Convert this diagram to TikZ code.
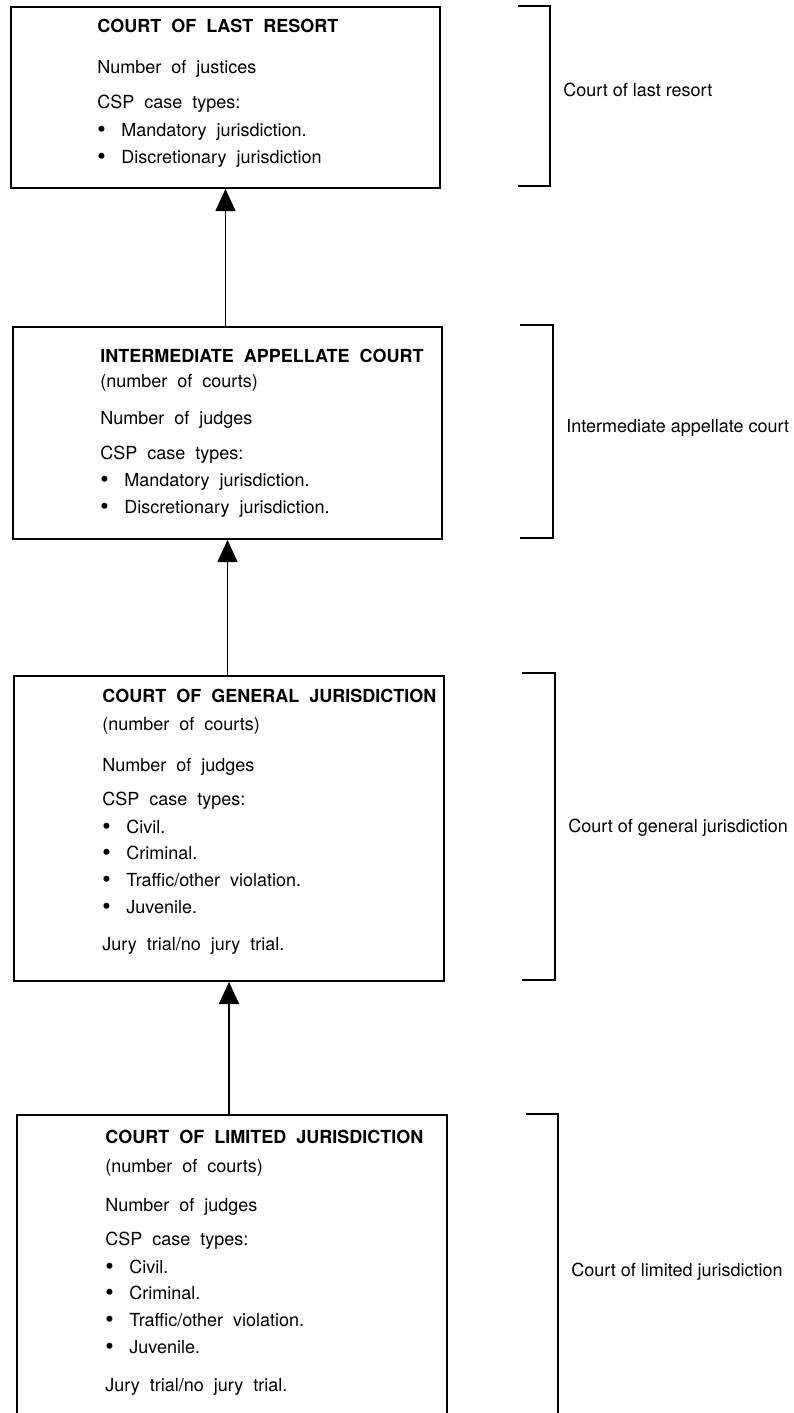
\documentclass[tikz,border=0pt]{standalone}
\usepackage{fontspec}
\setmainfont{TeX Gyre Heros}[WordSpace=2]
\newfontfamily\levelfont{TeX Gyre Heros}
\usepackage{tikz}
\usetikzlibrary{positioning, calc, arrows.meta}

\newcommand{\caseitem}[1]{\makebox[12pt][l]{\raisebox{-0.6pt}{\fontsize{12}{11}\selectfont\textbullet}}#1}

\tikzset{
    court/.style={draw, line width=1pt, anchor=north west, inner sep=0pt},
    entry/.style={anchor=base west, inner sep=0pt, font=\fontsize{9}{11}\selectfont},
    heading/.style={entry, font=\fontsize{9}{11}\selectfont\bfseries},
    level/.style={anchor=west, inner sep=0pt, font=\levelfont\fontsize{9}{11}\selectfont},
    appeal/.style={line width=0.8pt, -{Triangle[width=10pt,length=11pt]}},
    bracket/.style={line width=1pt}
}

\begin{document}
\begin{tikzpicture}[x=0.5pt, y=-0.5pt]
    \useasboundingbox (0,0) rectangle (793,1413);

    % the four courts
    \node[court, minimum width=214.5pt, minimum height=90.5pt] (lastresort) at (10,6) {};
    \node[court, minimum width=214.5pt, minimum height=106pt] (intermediate) at (12,326) {};
    \node[court, minimum width=215pt, minimum height=152.5pt] (general) at (13,675) {};
    \node[court, minimum width=215pt, minimum height=165pt] (limited) at (16,1114) {};

    % court of last resort
    \node[heading] (lastresort-title) at (97,33) {COURT OF LAST RESORT};
    \node[entry] at (97,74) {Number of justices};
    \node[entry] at (97,109) {CSP case types:};
    \node[entry] at (97,136) {\caseitem{Mandatory jurisdiction.}};
    \node[entry] at (97,163) {\caseitem{Discretionary jurisdiction}};

    % intermediate appellate court
    \node[heading] (intermediate-title) at (100,362) {INTERMEDIATE APPELLATE COURT};
    \node[entry] at (100,387) {(number of courts)};
    \node[entry] at (100,424) {Number of judges};
    \node[entry] at (100,459) {CSP case types:};
    \node[entry] at (100,486) {\caseitem{Mandatory jurisdiction.}};
    \node[entry] at (100,513) {\caseitem{Discretionary jurisdiction.}};

    % court of general jurisdiction
    \node[heading] (general-title) at (102,702) {COURT OF GENERAL JURISDICTION};
    \node[entry] at (102,730) {(number of courts)};
    \node[entry] at (102,771) {Number of judges};
    \node[entry] at (102,805) {CSP case types:};
    \node[entry] at (102,833) {\caseitem{Civil.}};
    \node[entry] at (102,859) {\caseitem{Criminal.}};
    \node[entry] at (102,886) {\caseitem{Traffic/other violation.}};
    \node[entry] at (102,913) {\caseitem{Juvenile.}};
    \node[entry] at (102,950) {Jury trial/no jury trial.};

    % court of limited jurisdiction
    \node[heading] (limited-title) at (105,1143) {COURT OF LIMITED JURISDICTION};
    \node[entry] at (105,1172) {(number of courts)};
    \node[entry] at (105,1211) {Number of judges};
    \node[entry] at (105,1245) {CSP case types:};
    \node[entry] at (105,1273) {\caseitem{Civil.}};
    \node[entry] at (105,1299) {\caseitem{Criminal.}};
    \node[entry] at (105,1326) {\caseitem{Traffic/other violation.}};
    \node[entry] at (105,1353) {\caseitem{Juvenile.}};
    \node[entry] at (105,1391) {Jury trial/no jury trial.};

    % appeals
    \draw[appeal] (intermediate.north -| lastresort.south) -- (lastresort.south);
    \draw[appeal] (general.north -| intermediate.south) -- (intermediate.south);
    \draw[appeal] (limited.north -| general.south) -- (general.south);

    % levels
    \draw[bracket] (518,6) -| (550,186) -- (518,186);
    \node[level] (lastresort-level) at (563,90) {Court of last resort};
    \draw[bracket] (520,325) -| (553,538) -- (520,538);
    \node[level] (intermediate-level) at (566,428) {Intermediate appellate court};
    \draw[bracket] (522,673) -| (555,980) -- (522,980);
    \node[level] (general-level) at (568,828) {Court of general jurisdiction};
    \draw[bracket] (526,1114) -| (558,1440);
    \node[level] (limited-level) at (571,1272) {Court of limited jurisdiction};
\end{tikzpicture}
\end{document}
